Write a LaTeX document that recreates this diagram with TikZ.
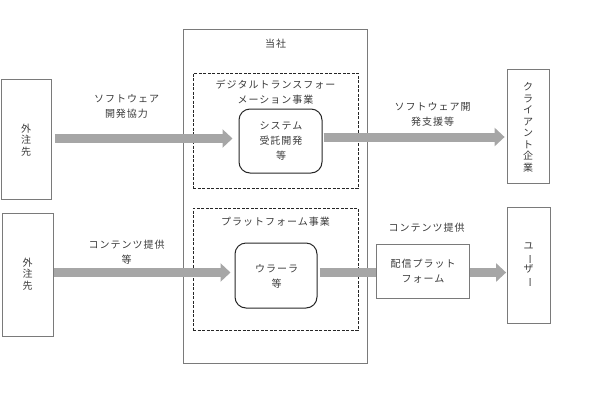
\documentclass[tikz,border=0pt]{standalone}
\usepackage{fontspec}
\setmainfont{Noto Sans CJK JP}
\newfontfamily\jp[LetterSpace=10]{Noto Sans CJK JP}
\usetikzlibrary{arrows.meta}
\definecolor{txt}{HTML}{3A3A3A}
\definecolor{edge}{HTML}{7A7A7A}
\definecolor{arr}{HTML}{A6A6A6}
\newcommand{\vbar}{\rotatebox[origin=c]{-90}{ー}}
\tikzset{
  box/.style={draw=edge, line width=0.8pt, rectangle, inner sep=0pt},
  dbox/.style={draw=black!85, dashed, dash pattern=on 3pt off 1.5pt, line width=0.9pt, rectangle, inner sep=0pt},
  rbox/.style={draw=black!85, line width=1pt, rounded corners=11pt, rectangle, inner sep=0pt},
  lbl/.style={text=txt, font=\jp\fontsize{10}{15}\selectfont, align=center, inner sep=0pt},
  vlbl/.style={text=txt, font=\fontsize{10}{11.5}\selectfont, align=center, inner sep=0pt},
  bar/.style={draw=arr, line width=9pt},
  fat/.style={bar, -{Triangle[length=10pt,width=18pt]}},
}
\begin{document}
\begin{tikzpicture}[x=1pt,y=-1pt]
\useasboundingbox (0,0) rectangle (610,397);
% main boxes
\node[box, minimum width=184pt, minimum height=334pt] (co) at (275,196) {};
\node[dbox, minimum width=165pt, minimum height=115pt] (dx) at (275.5,130.5) {};
\node[dbox, minimum width=165pt, minimum height=122pt] (pf) at (275.5,269) {};
\node[rbox, minimum width=83pt, minimum height=64pt] (sys) at (280.5,141) {};
\node[rbox, minimum width=82pt, minimum height=65pt] (ur) at (276,275.5) {};
\node[box, minimum width=50pt, minimum height=120pt] (o1) at (26,139) {};
\node[box, minimum width=51pt, minimum height=123pt] (o2) at (27.5,274.5) {};
\node[box, minimum width=93pt, minimum height=54pt] (dist) at (422.5,271) {};
\node[box, minimum width=42pt, minimum height=114pt] (cl) at (528,126) {};
\node[box, minimum width=43pt, minimum height=116pt] (us) at (528.5,265) {};
% texts
\node[lbl] (t0) at (275.5,44) {当社};
\node[lbl] (t1) at (275.5,92) {デジタルトランスフォー\\メーション事業};
\node[lbl] (t2) at (275.5,222) {プラットフォーム事業};
\node[lbl] (t3) at (281,141) {システム\\受託開発\\等};
\node[lbl] (t4) at (276.5,276.5) {ウラーラ\\等};
\node[lbl] (t5) at (423,271) {配信プラット\\フォーム};
\node[vlbl] (t6) at (26,140) {外\\注\\先};
\node[vlbl] (t7) at (27.5,274) {外\\注\\先};
\node[vlbl] (t8) at (528,127.5) {ク\\ラ\\イ\\ア\\ン\\ト\\企\\業};
\node[vlbl] (t9) at (528.5,265) {ユ\\\vbar\\ザ\\\vbar};
\node[lbl] (l1) at (126.5,106.5) {ソフトウェア\\開発協力};
\node[lbl] (l2) at (432.5,114) {ソフトウェア開\\発支援等};
\node[lbl] (l3) at (126.5,252.5) {コンテンツ提供\\等};
\node[lbl] (l4) at (426.5,228) {コンテンツ提供};
% arrows
\draw[fat, shorten <=4pt, shorten >=6pt] ([yshift=0.5pt]o1.east) -- ([yshift=0.5pt]o1.east -| sys.west);
\draw[fat, shorten <=1pt, shorten >=2pt] ([yshift=4pt]sys.east) -- ([yshift=4pt]sys.east -| cl.west);
\draw[fat, shorten <=1pt, shorten >=4pt] ([yshift=2pt]o2.east) -- ([yshift=2pt]o2.east -| ur.west);
\draw[bar, shorten <=2pt] ([yshift=3pt]ur.east) -- ([yshift=3pt]ur.east -| dist.west);
\draw[fat, shorten <=1pt, shorten >=0.5pt] ([yshift=-1.5pt]dist.east) -- ([yshift=-1.5pt]dist.east -| us.west);
\end{tikzpicture}
\end{document}
